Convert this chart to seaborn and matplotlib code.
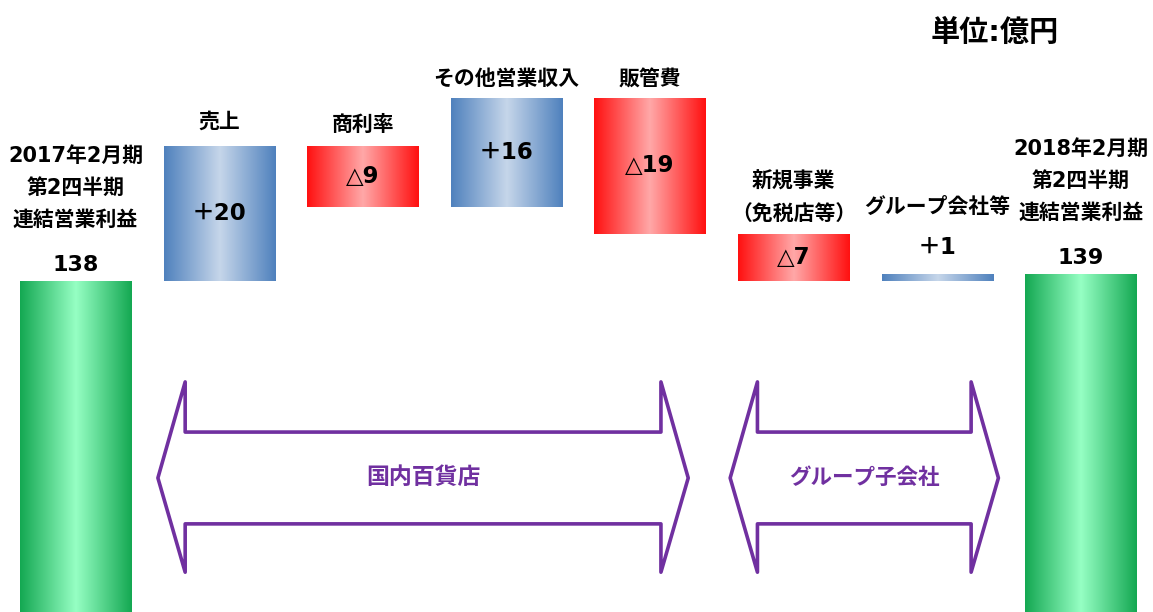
import matplotlib
matplotlib.use("Agg")
import matplotlib.pyplot as plt
import numpy as np
import seaborn as sns
from matplotlib.colors import LinearSegmentedColormap
from matplotlib.transforms import blended_transform_factory

sns.set_style("white")
plt.rcParams['font.family'] = ['DejaVu Sans', 'Noto Sans CJK JP']
plt.rcParams['font.weight'] = 'bold'

# Data (unit: 100 million yen)
start_value = 138.0
end_value = 139.0
step_names = ['売上', '商利率', 'その他営業収入', '販管費', '新規事業\n（免税店等）', 'グループ会社等']
step_values = [20.0, -9.0, 16.1, -20.1, -7.0, 1.0]   # bar sizes
step_labels = ['＋20', '△9', '＋16', '△19', '△7', '＋1']
total_names = ['2017年2月期\n第2四半期\n連結営業利益', '2018年2月期\n第2四半期\n連結営業利益']
total_labels = ['138', '139']
group_names = ['国内百貨店', 'グループ子会社']
group_members = [(1, 4), (5, 6)]   # first and last step bar under each arrow

# Waterfall geometry
cum = start_value + np.cumsum(step_values)
prev = np.concatenate([[start_value], cum[:-1]])
bottoms = np.concatenate([[0], np.minimum(prev, cum), [0]])
heights = np.concatenate([[start_value], np.abs(step_values), [end_value]])
kinds = ['total'] + ['up' if v > 0 else 'down' for v in step_values] + ['total']
xpos = np.arange(len(heights))

# Gradient colours: edge -> centre -> edge
cmaps = {
    'total': LinearSegmentedColormap.from_list('g', ['#14A852', '#96FFC4', '#14A852']),
    'up': LinearSegmentedColormap.from_list('b', ['#4F81BD', '#C6D6EA', '#4F81BD']),
    'down': LinearSegmentedColormap.from_list('r', ['#FF1010', '#FFA8A8', '#FF1010']),
}

fig = plt.figure(figsize=(11.53, 6.12), dpi=100)
ax = fig.add_axes([0, 0, 1, 1])
ax.axis('off')

bars = ax.bar(xpos, heights, bottom=bottoms, width=0.773,
              facecolor='none', edgecolor='none')

grad = np.linspace(0, 1, 256).reshape(1, -1)
for patch, kind in zip(bars, kinds):
    x0, y0 = patch.get_x(), patch.get_y()
    im = ax.imshow(grad, cmap=cmaps[kind], aspect='auto', interpolation='bicubic',
                   extent=[x0, x0 + patch.get_width(), y0, y0 + patch.get_height()])
    im.set_clip_path(patch)

ax.set_xlim(-0.526, 7.503)
ax.set_ylim(89.04, 179.57)

tops = bottoms + heights


def put(x, y, text, dy, size=15, **kw):
    ax.annotate(text, (x, y), xytext=(0, dy), textcoords='offset pixels',
                ha='center', va='center', fontsize=size, fontweight='bold',
                color='black', **kw)


# totals
for i, name, lab in zip([0, len(heights) - 1], total_names, total_labels):
    put(xpos[i], tops[i], name, 93, linespacing=1.75)
    put(xpos[i], tops[i], lab, 16, size=16)

# steps
name_offsets = [24, 21, 19, 19, 36, 67]
for k, (name, lab, off) in enumerate(zip(step_names, step_labels, name_offsets)):
    i = k + 1
    put(xpos[i], tops[i], name, off, linespacing=1.75)
    if heights[i] < 3:
        put(xpos[i], tops[i], lab, 27, size=16.5)
    else:
        put(xpos[i], bottoms[i] + heights[i] / 2, lab, 0, size=16.5)

# unit
ax.text(0.863, 0.946, '単位:億円', transform=ax.transAxes, ha='center', va='center',
        fontsize=21, fontweight='bold', color='black')

# double-headed outline arrows under the step bars
trans = blended_transform_factory(ax.transData, ax.transAxes)
purple = '#7030A0'
y_barb_top, y_shaft_top, y_mid, y_shaft_bot, y_barb_bot = 0.376, 0.294, 0.219, 0.144, 0.065
inset = 0.19
for name, (a, b), (pad_l, pad_r), fs in zip(group_names, group_members,
                                             [(0.04, 0.12), (0.055, -0.04)], [16.5, 15.5]):
    left = xpos[a] - 0.3865 - pad_l
    right = xpos[b] + 0.3865 - pad_r
    pts = [(left, y_mid), (left + inset, y_barb_top), (left + inset, y_shaft_top),
           (right - inset, y_shaft_top), (right - inset, y_barb_top), (right, y_mid),
           (right - inset, y_barb_bot), (right - inset, y_shaft_bot),
           (left + inset, y_shaft_bot), (left + inset, y_barb_bot)]
    ax.add_patch(plt.Polygon(pts, closed=True, transform=trans, facecolor='none',
                             edgecolor=purple, linewidth=2.6, joinstyle='round'))
    ax.text((left + right) / 2, y_mid, name, transform=trans, ha='center', va='center',
            fontsize=fs, fontweight='bold', color=purple)

plt.savefig('out.png', dpi=100)
